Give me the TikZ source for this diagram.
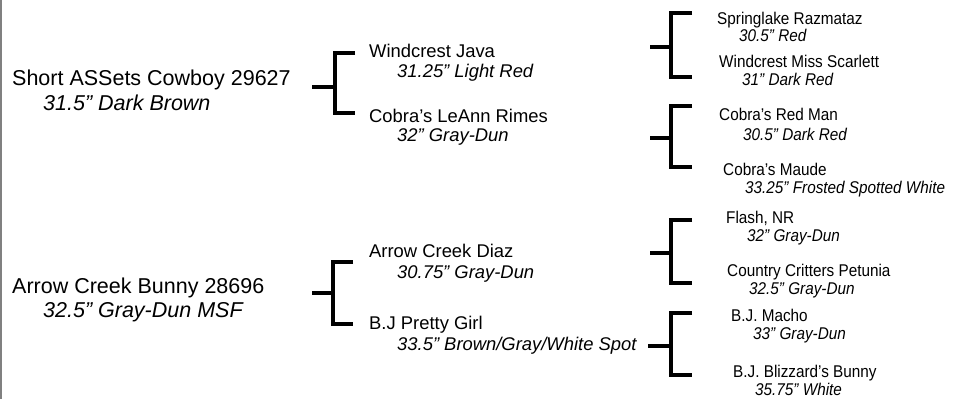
\documentclass[tikz,border=0pt]{standalone}
\usepackage{fontspec}
\setmainfont{Liberation Sans}
\newfontfamily\lvthreefont[FakeStretch=0.9]{Liberation Sans}
\begin{document}
\begin{tikzpicture}[x=1pt,y=-1pt,
  txt/.style={inner sep=0pt,anchor=base west},
  lone/.style={txt,font=\fontsize{21.5}{24}\selectfont},
  lonec/.style={lone,font=\fontsize{21.5}{24}\selectfont\itshape},
  ltwo/.style={txt,font=\fontsize{18.4}{21}\selectfont},
  ltwoc/.style={txt,font=\fontsize{18.4}{21}\selectfont\itshape},
  lthree/.style={txt,font=\lvthreefont\fontsize{17}{20}\selectfont},
  lthreec/.style={txt,font=\lvthreefont\fontsize{17}{20}\selectfont\itshape},
  brk/.style={line width=4pt,line join=miter,line cap=butt}]
\useasboundingbox (0,0) rectangle (955,399);
\fill[white] (0,0) rectangle (955,399);
\coordinate (edgeT) at (0.8,0);
\coordinate (edgeB) at (0.8,399);
\draw[gray,line width=1.6pt] (edgeT) -- (edgeB);

% level 1
\node[lone] (s1) at (12,85) {Short ASSets Cowboy 29627};
\node[lonec] (s1c) at (43,110) {31.5” Dark Brown};
\node[lone] (d1) at (12,293) {Arrow Creek Bunny 28696};
\node[lonec] (d1c) at (43,317) {32.5” Gray-Dun MSF};

% level 2
\node[ltwo] (s2) at (369,57) {Windcrest Java};
\node[ltwoc] (s2c) at (397,77) {31.25” Light Red};
\node[ltwo] (d2) at (369,122) {Cobra’s LeAnn Rimes};
\node[ltwoc] (d2c) at (397,141) {32” Gray-Dun};
\node[ltwo] (s3) at (369,257) {Arrow Creek Diaz};
\node[ltwoc] (s3c) at (397,278) {30.75” Gray-Dun};
\node[ltwo] (d3) at (369,329) {B.J Pretty Girl};
\node[ltwoc] (d3c) at (397,350) {33.5” Brown/Gray/White Spot};

% level 3
\node[lthree] (a1) at (717,24) {Springlake Razmataz};
\node[lthreec] (a1c) at (739,41) {30.5” Red};
\node[lthree] (a2) at (719,67) {Windcrest Miss Scarlett};
\node[lthreec] (a2c) at (742,85) {31” Dark Red};
\node[lthree] (b1) at (719,120) {Cobra’s Red Man};
\node[lthreec] (b1c) at (743,140) {30.5” Dark Red};
\node[lthree] (b2) at (723,175) {Cobra’s Maude};
\node[lthreec] (b2c) at (745,193) {33.25” Frosted Spotted White};
\node[lthree] (c1) at (726,223) {Flash, NR};
\node[lthreec] (c1c) at (747,241) {32” Gray-Dun};
\node[lthree] (c2) at (727,276) {Country Critters Petunia};
\node[lthreec] (c2c) at (749,294) {32.5” Gray-Dun};
\node[lthree] (e1) at (731,321) {B.J. Macho};
\node[lthreec] (e1c) at (753,339) {33” Gray-Dun};
\node[lthree] (e2) at (733,377) {B.J. Blizzard’s Bunny};
\node[lthreec] (e2c) at (755,395) {35.75” White};

% brackets level 1
\coordinate (k1s) at (312,87);
\coordinate (k1m) at (335,87);
\coordinate (k1t) at (355,53);
\coordinate (k1b) at (355,113);
\draw[brk] (k1s) -- (k1m);
\draw[brk] (k1t) -- (k1t -| k1m) -- (k1b -| k1m) -- (k1b);

\coordinate (k2s) at (312,293);
\coordinate (k2m) at (333,293);
\coordinate (k2t) at (353,262);
\coordinate (k2b) at (353,324);
\draw[brk] (k2s) -- (k2m);
\draw[brk] (k2t) -- (k2t -| k2m) -- (k2b -| k2m) -- (k2b);

% brackets level 2
\coordinate (ka s) at (650,47);
\coordinate (ka m) at (671,47);
\coordinate (ka t) at (692,13);
\coordinate (ka b) at (692,77);
\draw[brk] (ka s) -- (ka m);
\draw[brk] (ka t) -- (ka t -| ka m) -- (ka b -| ka m) -- (ka b);

\coordinate (kb s) at (650,138);
\coordinate (kb m) at (671,138);
\coordinate (kb t) at (692,106);
\coordinate (kb b) at (692,167);
\draw[brk] (kb s) -- (kb m);
\draw[brk] (kb t) -- (kb t -| kb m) -- (kb b -| kb m) -- (kb b);

\coordinate (kc s) at (650,253);
\coordinate (kc m) at (671,253);
\coordinate (kc t) at (692,220);
\coordinate (kc b) at (692,283);
\draw[brk] (kc s) -- (kc m);
\draw[brk] (kc t) -- (kc t -| kc m) -- (kc b -| kc m) -- (kc b);

\coordinate (kd s) at (648,346);
\coordinate (kd m) at (671,346);
\coordinate (kd t) at (692,313);
\coordinate (kd b) at (692,375);
\draw[brk] (kd s) -- (kd m);
\draw[brk] (kd t) -- (kd t -| kd m) -- (kd b -| kd m) -- (kd b);
\end{tikzpicture}
\end{document}
